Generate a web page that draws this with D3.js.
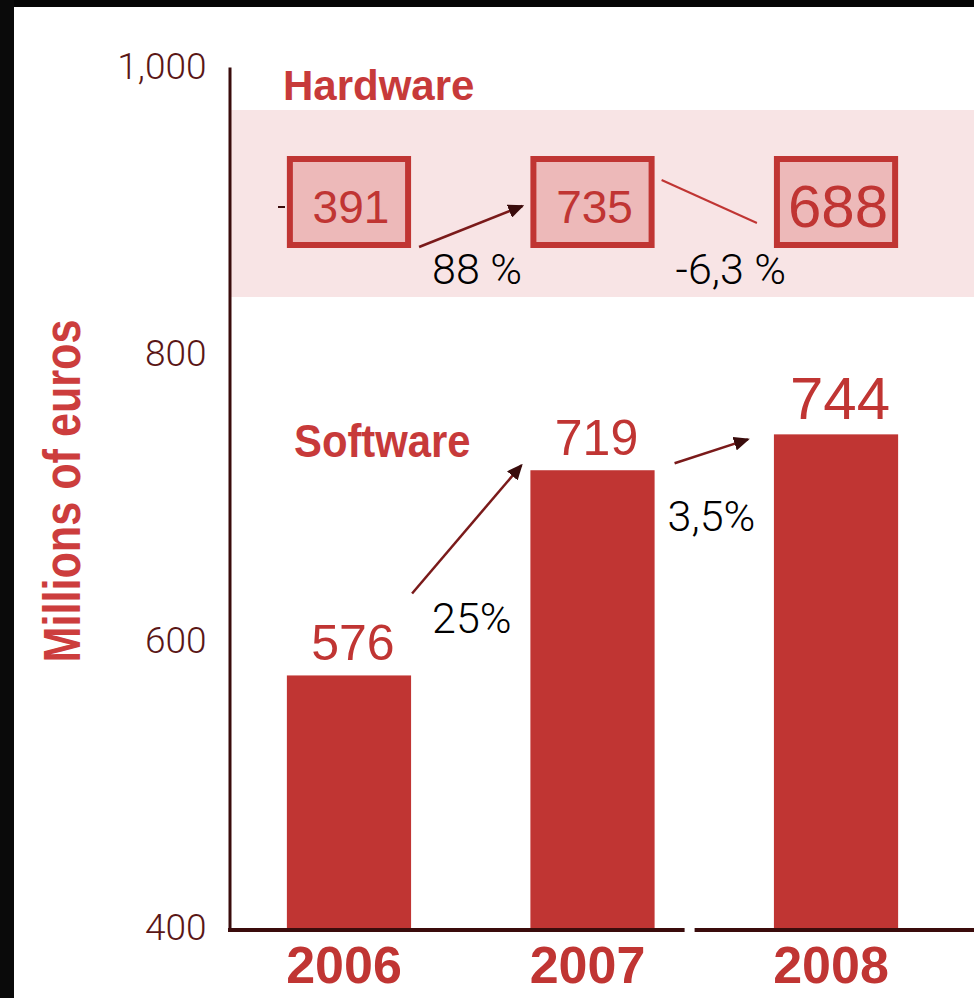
<!DOCTYPE html>
<html>
<head>
<meta charset="utf-8">
<script src="https://cdn.jsdelivr.net/npm/d3@7"></script>
<style>
  body { margin: 0; background: #fff; }
  svg { display: block; }
</style>
</head>
<body>
<svg id="chart"></svg>
<script>
// values
var years = ["2006", "2007", "2008"];
var software = [576, 719, 744];
var hardware = [391, 735, 688];
var softwareGrowth = ["25%", "3,5%"];
var hardwareGrowth = ["88 %", "-6,3 %"];
var yTicks = [400, 600, 800, 1000];

var red = "#c03533",
    dark = "#3a0c0c",
    labelRed = "#c73a3a";

var svg = d3.select("#chart")
  .attr("width", 974)
  .attr("height", 998);

// dark frame of the screenshot
svg.append("rect").attr("x", 0).attr("y", 0).attr("width", 974).attr("height", 7).attr("fill", "#050505");
svg.append("rect").attr("x", 0).attr("y", 0).attr("width", 14).attr("height", 998).attr("fill", "#0a0a0a");

var x = d3.scaleBand()
  .domain(years)
  .range([226, 959])
  .paddingInner(0.49)
  .paddingOuter(0.25);

var y = d3.scaleLinear()
  .domain([400, 1000])
  .range([928, 67]);

var bw = x.bandwidth();

// hardware band
svg.append("rect")
  .attr("x", 230).attr("y", 110)
  .attr("width", 744).attr("height", 187)
  .attr("fill", "#f8e4e5");

svg.append("text")
  .attr("x", 283).attr("y", 100)
  .attr("fill", labelRed)
  .style("font-family", "Liberation Sans, Arial, sans-serif")
  .style("font-weight", "bold")
  .style("font-size", "42px")
  .text("Hardware");

// hardware boxes
var hw = svg.append("g");
hw.selectAll("rect")
  .data(hardware)
  .enter().append("rect")
    .attr("x", function(d, i) { return x(years[i]) + 3; })
    .attr("y", 159)
    .attr("width", bw - 6)
    .attr("height", 86)
    .attr("fill", "#edb9b9")
    .attr("stroke", red)
    .attr("stroke-width", 6);

hw.selectAll("text")
  .data(hardware)
  .enter().append("text")
    .attr("x", function(d, i) { return x(years[i]) + bw / 2 + 2; })
    .attr("y", function(d, i) { return i == 2 ? 227 : 223; })
    .attr("text-anchor", "middle")
    .attr("fill", red)
    .style("font-family", "Liberation Sans, Arial, sans-serif")
    .style("font-size", function(d, i) { return i == 2 ? "60px" : "46px"; })
    .text(function(d) { return d; });

// arrowhead
svg.append("defs").append("marker")
  .attr("id", "head")
  .attr("markerUnits", "userSpaceOnUse")
  .attr("markerWidth", 16).attr("markerHeight", 14)
  .attr("refX", 14).attr("refY", 7)
  .attr("orient", "auto")
  .append("path")
    .attr("d", "M0,0L16,7L0,14Z")
    .attr("fill", dark);

// hardware arrows
svg.append("line")
  .attr("x1", x("2006") + bw + 8).attr("y1", 247)
  .attr("x2", x("2007") - 8).attr("y2", 206)
  .attr("stroke", "#7a1a1a").attr("stroke-width", 2.5)
  .attr("marker-end", "url(#head)");
svg.append("line")
  .attr("x1", x("2007") + bw + 7).attr("y1", 180)
  .attr("x2", x("2008") - 17).attr("y2", 223)
  .attr("stroke", red).attr("stroke-width", 2);
svg.append("line")
  .attr("x1", 278).attr("y1", 207)
  .attr("x2", 285).attr("y2", 207)
  .attr("stroke", dark).attr("stroke-width", 2);

var pctFont = "Roboto, DejaVu Sans, sans-serif";
svg.selectAll(".hwpct")
  .data(hardwareGrowth)
  .enter().append("text")
    .attr("class", "hwpct")
    .attr("x", function(d, i) { return x(years[i]) + bw + 21; })
    .attr("y", 284)
    .attr("fill", "#000")
    .style("font-family", pctFont)
    .style("font-weight", 300)
    .style("font-size", "43px")
    .text(function(d) { return d; });

// software bars
svg.append("text")
  .attr("transform", "translate(294,457) scale(0.89,1)")
  .attr("fill", labelRed)
  .style("font-family", "Liberation Sans, Arial, sans-serif")
  .style("font-weight", "bold")
  .style("font-size", "47px")
  .text("Software");

svg.selectAll(".bar")
  .data(software)
  .enter().append("rect")
    .attr("class", "bar")
    .attr("x", function(d, i) { return x(years[i]); })
    .attr("y", function(d) { return y(d); })
    .attr("width", bw)
    .attr("height", function(d) { return y(400) - y(d); })
    .attr("fill", red);

svg.selectAll(".val")
  .data(software)
  .enter().append("text")
    .attr("class", "val")
    .attr("x", function(d, i) { return x(years[i]) + bw / 2 + 4; })
    .attr("y", function(d) { return y(d) - 15; })
    .attr("text-anchor", "middle")
    .attr("fill", red)
    .style("font-family", "Liberation Sans, Arial, sans-serif")
    .style("font-size", function(d, i) { return i == 2 ? "60px" : "50px"; })
    .text(function(d) { return d; });

// software arrows
svg.append("line")
  .attr("x1", x("2006") + bw + 1).attr("y1", y(software[0]) - 82)
  .attr("x2", x("2007") - 9).attr("y2", y(software[1]) - 5)
  .attr("stroke", "#7a1a1a").attr("stroke-width", 2.5)
  .attr("marker-end", "url(#head)");
svg.append("line")
  .attr("x1", x("2007") + bw + 20).attr("y1", y(software[1]) - 7)
  .attr("x2", x("2008") - 26).attr("y2", y(software[2]) + 5)
  .attr("stroke", "#7a1a1a").attr("stroke-width", 2.5)
  .attr("marker-end", "url(#head)");

svg.selectAll(".swpct")
  .data(softwareGrowth)
  .enter().append("text")
    .attr("class", "swpct")
    .attr("x", function(d, i) { return x(years[i]) + bw + (i == 0 ? 21 : 13); })
    .attr("y", function(d, i) { return i == 0 ? 633 : 531; })
    .attr("fill", "#000")
    .style("font-family", pctFont)
    .style("font-weight", 300)
    .style("font-size", "43px")
    .text(function(d) { return d; });

// y axis
var yAxis = svg.append("g")
  .attr("transform", "translate(229.5,0)")
  .call(d3.axisLeft(y).tickValues(yTicks).tickSize(0).tickPadding(23).tickFormat(d3.format(",")));
yAxis.select(".domain").attr("stroke", dark).attr("stroke-width", 3);
yAxis.selectAll("text")
  .attr("fill", "#5a1616")
  .style("font-family", pctFont)
  .style("font-weight", 300)
  .style("font-size", "37px");

svg.append("text")
  .attr("transform", "translate(80,491) rotate(-90) scale(0.83,1)")
  .attr("text-anchor", "middle")
  .attr("fill", "#cc3d3d")
  .style("font-family", "Liberation Sans, Arial, sans-serif")
  .style("font-weight", "bold")
  .style("font-size", "52px")
  .text("Millions of euros");

// x axis, with the small break after 2007
var xAxis = svg.append("g")
  .attr("transform", "translate(0,930)")
  .call(d3.axisBottom(x).tickSize(0).tickPadding(16));
xAxis.select(".domain").remove();
xAxis.selectAll("text")
  .attr("dx", -5)
  .attr("fill", red)
  .style("font-family", "Liberation Sans, Arial, sans-serif")
  .style("font-weight", "bold")
  .style("font-size", "52px");

svg.append("line")
  .attr("x1", 228).attr("x2", x("2007") + bw + 30)
  .attr("y1", 930).attr("y2", 930)
  .attr("stroke", dark).attr("stroke-width", 4);
svg.append("line")
  .attr("x1", x("2007") + bw + 40).attr("x2", 974)
  .attr("y1", 930).attr("y2", 930)
  .attr("stroke", dark).attr("stroke-width", 4);
</script>
</body>
</html>
